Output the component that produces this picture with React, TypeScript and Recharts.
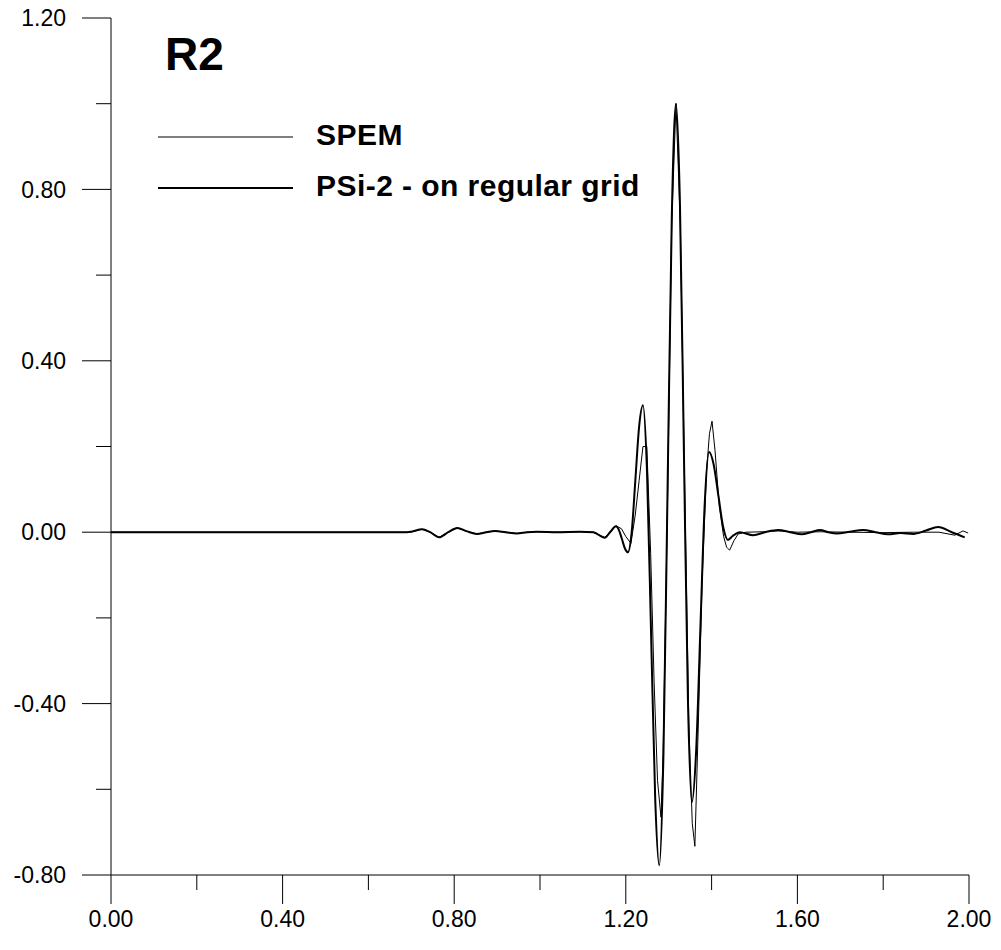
import React from 'react';
import { LineChart, Line, XAxis, YAxis, Legend } from 'recharts';

const xTicks = [0, 0.2, 0.4, 0.6, 0.8, 1.0, 1.2, 1.4, 1.6, 1.8, 2.0];
const yTicks = [-0.8, -0.6, -0.4, -0.2, 0, 0.2, 0.4, 0.6, 0.8, 1.0, 1.2];

// SPEM (thin line)
const spemX = [
  0, 0.69, 0.70, 0.725, 0.744, 0.765, 0.786, 0.807, 0.83, 0.853, 0.875, 0.895, 0.92, 0.946, 0.97,
  0.993, 1.04, 1.093, 1.124, 1.151, 1.164, 1.177, 1.19, 1.2, 1.212, 1.222, 1.231, 1.24, 1.249,
  1.258, 1.266, 1.274, 1.282, 1.287, 1.297, 1.307, 1.317, 1.327, 1.337, 1.347, 1.355, 1.361,
  1.369, 1.378, 1.388, 1.395, 1.401, 1.408, 1.418, 1.428, 1.435, 1.442, 1.452, 1.462, 1.48,
  1.52, 1.555, 1.6, 1.653, 1.72, 1.8, 1.87, 1.93, 1.967, 1.986, 1.998,
];
const spemY = [
  0, 0, 0.001, 0.007, 0, -0.012, 0, 0.01, 0.002, -0.004, 0, 0.003, 0, -0.003, 0,
  0.001, 0, 0.001, 0, -0.012, 0, 0.015, 0.008, -0.01, -0.026, 0.04, 0.12, 0.2, 0.2,
  -0.05, -0.35, -0.58, -0.665, -0.516, 0.05, 0.72, 1.0, 0.72, 0.12, -0.45, -0.68, -0.733,
  -0.45, -0.11, 0.14, 0.23, 0.259, 0.19, 0.06, -0.01, -0.035, -0.042, -0.02, -0.004, 0,
  0.001, 0.003, 0, 0.001, 0, -0.001, 0, 0, -0.007, 0.003, -0.002,
];

// PSi-2 on regular grid (thick line)
const psiX = [
  0, 0.69, 0.70, 0.725, 0.744, 0.765, 0.786, 0.807, 0.83, 0.853, 0.875, 0.895, 0.92, 0.946, 0.97,
  0.993, 1.04, 1.093, 1.124, 1.151, 1.164, 1.177, 1.184, 1.191, 1.198, 1.205, 1.214, 1.2225,
  1.231, 1.24, 1.2495, 1.259, 1.2685, 1.278, 1.2878, 1.2975, 1.3073, 1.317, 1.3263, 1.3355,
  1.3448, 1.354, 1.364, 1.374, 1.384, 1.394, 1.405, 1.416, 1.427, 1.438, 1.449, 1.466,
  1.497, 1.525, 1.555, 1.583, 1.61, 1.632, 1.653, 1.672, 1.692, 1.722, 1.753, 1.782, 1.811,
  1.84, 1.87, 1.9, 1.928, 1.96, 1.99,
];
const psiY = [
  0, 0, 0.001, 0.007, 0, -0.012, 0, 0.01, 0.002, -0.004, 0, 0.003, 0, -0.003, 0,
  0.001, 0, 0.001, 0, -0.013, 0.001, 0.014, 0.005, -0.016, -0.038, -0.047, 0.003, 0.125,
  0.246, 0.296, 0.139, -0.24, -0.62, -0.777, -0.517, 0.111, 0.74, 1.0, 0.761, 0.185,
  -0.391, -0.63, -0.51, -0.22, 0.067, 0.187, 0.157, 0.084, 0.012, -0.018, -0.009, 0,
  -0.007, 0, 0.005, 0, -0.005, 0, 0.005, 0, -0.003, 0.001, 0.005, 0, -0.005,
  -0.002, -0.004, 0.004, 0.012, 0, -0.012,
];

const toPoints = (xs: number[], ys: number[]) => xs.map((x, i) => ({ x, y: ys[i] }));

const series = [
  { name: 'SPEM', data: toPoints(spemX, spemY), width: 1, curve: 'linear' },
  { name: 'PSi-2 - on regular grid', data: toPoints(psiX, psiY), width: 2, curve: 'monotone' },
];

const FONT = '"Liberation Sans", Arial, Helvetica, sans-serif';
const MAJOR = 29;
const MINOR = 15;
const Y_GAP = 16;
const X_GAP = 6;

const isMajor = (v: number) => Math.round(v * 10) % 4 === 0;

const YTick = ({ x, y, payload }: any) => {
  const axisX = x + Y_GAP + MAJOR;
  const major = isMajor(payload.value);
  return (
    <g>
      <line x1={axisX - (major ? MAJOR : MINOR)} x2={axisX} y1={y} y2={y} stroke="#000" />
      {major && (
        <text x={x} y={y} dy="0.36em" textAnchor="end" fontSize={23} fontFamily={FONT} fill="#000">
          {payload.value.toFixed(2)}
        </text>
      )}
    </g>
  );
};

const XTick = ({ x, y, payload }: any) => {
  const axisY = y - X_GAP - MAJOR;
  const major = isMajor(payload.value);
  return (
    <g>
      <line x1={x} x2={x} y1={axisY} y2={axisY + (major ? MAJOR : MINOR)} stroke="#000" />
      {major && (
        <text x={x} y={y} dy="0.72em" textAnchor="middle" fontSize={23} fontFamily={FONT} fill="#000">
          {payload.value.toFixed(2)}
        </text>
      )}
    </g>
  );
};

// legend box sits at page (150, 20); everything below is relative to that
const LegendBox = () => (
  <svg width={540} height={200} style={{ display: 'block', overflow: 'visible' }}>
    <text x={15} y={50} fontSize={46} fontWeight="bold" fontFamily={FONT} fill="#000">
      R2
    </text>
    {series.map((s, i) => (
      <g key={s.name}>
        <line x1={8} x2={143} y1={117 + i * 51} y2={117 + i * 51} stroke="#000" strokeWidth={s.width === 1 ? 1.2 : 1.8} />
        <text
          x={166}
          y={125 + i * 51}
          fontSize={30}
          fontWeight="bold"
          fontFamily={FONT}
          letterSpacing={0.45}
          fill="#000"
        >
          {s.name}
        </text>
      </g>
    ))}
  </svg>
);

export default function App() {
  return (
    <div style={{ position: 'absolute', left: 0, top: 0, background: '#fff' }}>
      <LineChart width={1001} height={950} margin={{ top: 18, right: 32, bottom: 0, left: 0 }}>
        <XAxis
          type="number"
          dataKey="x"
          domain={[0, 2]}
          ticks={xTicks}
          interval={0}
          allowDataOverflow
          stroke="#000"
          tickLine={false}
          tickSize={MAJOR}
          tickMargin={X_GAP}
          height={75}
          tick={(p: any) => <XTick {...p} />}
        />
        <YAxis
          type="number"
          dataKey="y"
          domain={[-0.8, 1.2]}
          ticks={yTicks}
          interval={0}
          allowDataOverflow
          stroke="#000"
          tickLine={false}
          tickSize={MAJOR}
          tickMargin={Y_GAP}
          width={111}
          tick={(p: any) => <YTick {...p} />}
        />
        <Legend
          layout="vertical"
          align="center"
          verticalAlign="middle"
          wrapperStyle={{ position: 'absolute', left: 150, top: 20, width: 540, height: 200 }}
          content={() => <LegendBox />}
        />
        {series
          .slice()
          .reverse()
          .map((s) => (
            <Line
              key={s.name}
              name={s.name}
              data={s.data}
              dataKey="y"
              type={s.curve as any}
              stroke="#000"
              strokeWidth={s.width}
              dot={false}
              activeDot={false}
              isAnimationActive={false}
            />
          ))}
      </LineChart>
    </div>
  );
}
